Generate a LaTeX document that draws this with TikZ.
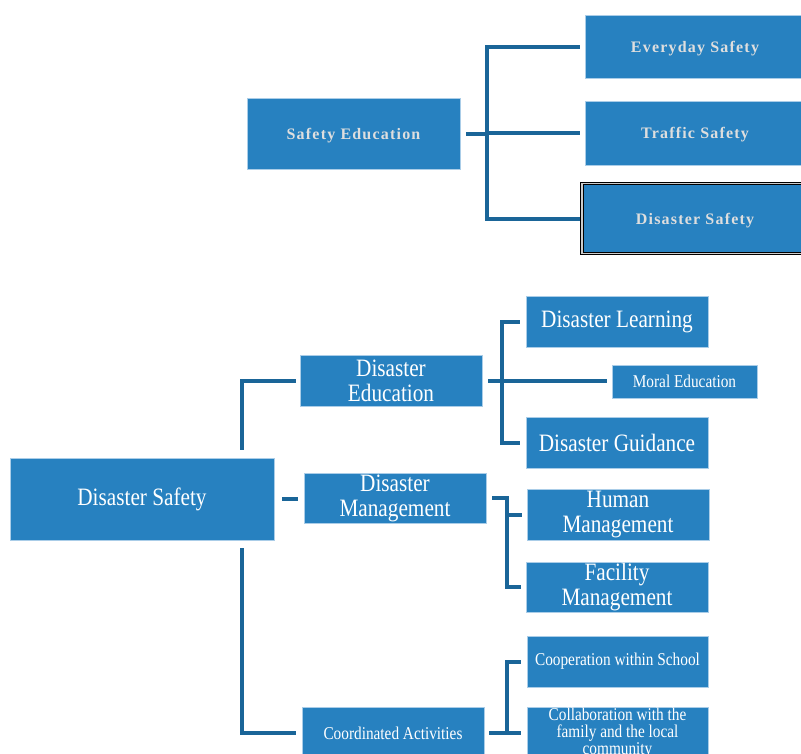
\documentclass[tikz,border=0pt]{standalone}
\usepackage{fontspec}
\setmainfont{Liberation Serif}
\newfontfamily\condfont{Liberation Serif}[FakeStretch=0.85]
\newfontfamily\topfont{Liberation Serif}[LetterSpace=7.5,BoldFont={Liberation Serif Bold}]
\definecolor{boxfill}{RGB}{39,129,192}
\definecolor{boxline}{RGB}{170,205,232}
\definecolor{connc}{RGB}{26,101,152}
\definecolor{toptext}{RGB}{222,222,222}
\begin{document}
\begin{tikzpicture}[x=1pt,y=-1pt,
  box/.style={rectangle, fill=boxfill, draw=boxline, line width=0.8pt, inner sep=0pt, align=center, text=white},
  topbox/.style={box, text=toptext, text height=11pt, text depth=0pt, font=\topfont\bfseries\fontsize{16}{18}\selectfont},
  bigbox/.style={box, font=\condfont\fontsize{25}{25}\selectfont},
  smallbox/.style={box, font=\condfont\fontsize{18}{17}\selectfont},
  conn/.style={draw=connc, line width=4pt, line join=miter, line cap=butt}]
\useasboundingbox (0,0) rectangle (801,753);
\begin{scope}
\clip (0,0) rectangle (801,753);
% ---------- top tree ----------
\node[topbox, minimum width=213pt, minimum height=71pt] (se) at (353.5,133.5) {Safety Education};
\node[topbox, minimum width=220pt, minimum height=63pt] (es) at (695,46.5) {Everyday Safety};
\node[topbox, minimum width=220pt, minimum height=64pt] (ts) at (695,133) {Traffic Safety};
\node[topbox, draw=black, line width=1.2pt, double=gray!40, double distance=1.4pt, minimum width=226pt, minimum height=70pt] (ds1) at (695,218.5) {Disaster Safety};
\coordinate (sej) at (487,0);
\draw[conn] ([xshift=6pt]se.east) -- (sej |- se.east);
\draw[conn] ([xshift=-5pt]es.west) -- (sej |- es.west) -- (sej |- ds1.west) -- ([xshift=-1pt]ds1.west);
\draw[conn] (sej |- ts.west) -- ([xshift=-5pt]ts.west);
% ---------- bottom tree ----------
\node[bigbox, minimum width=264pt, minimum height=82pt] (ds) at (142,499) {Disaster Safety};
\node[bigbox, minimum width=182pt, minimum height=51pt] (de) at (391,380.5) {Disaster\\Education};
\node[bigbox, minimum width=182pt, minimum height=50pt] (dm) at (395,498) {Disaster\\Management};
\node[smallbox, minimum width=182pt, minimum height=52pt] (ca) at (393,733) {Coordinated Activities};
\node[bigbox, minimum width=182pt, minimum height=51pt] (dl) at (617,321.5) {Disaster Learning};
\node[smallbox, minimum width=145pt, minimum height=33pt] (me) at (684.5,381.5) {Moral Education};
\node[bigbox, minimum width=182pt, minimum height=51pt] (dg) at (617,442.5) {Disaster Guidance};
\node[bigbox, minimum width=182pt, minimum height=51pt] (hm) at (618,514.5) {Human\\Management};
\node[bigbox, minimum width=182pt, minimum height=50pt] (fm) at (617,587) {Facility\\Management};
\node[smallbox, minimum width=181pt, minimum height=51pt] (cw) at (617.5,661.5) {Cooperation within School};
\node[smallbox, minimum width=181pt, minimum height=52pt] (cl) at (617.5,733) {Collaboration with the\\family and the local\\community};
% connectors
\draw[conn] ([xshift=100pt,yshift=8pt]ds.north) |- ([xshift=-4pt]de.west);
\draw[conn] ([xshift=100pt,yshift=-8pt]ds.south) |- ([xshift=-6pt]ca.west);
\draw[conn] ([xshift=8pt]ds.east) -- ([xshift=-6pt]ds.east -| dm.west);
\coordinate (dex) at (502,0);
\draw[conn] ([xshift=6pt]de.east) -- ([xshift=-5pt]de.east -| me.west);
\draw[conn] ([xshift=-6pt]dl.west) -- (dex |- dl.west) -- (dex |- dg.west) -- ([xshift=-6pt]dg.west);
\coordinate (dmx) at (507,0);
\draw[conn] ([xshift=6pt]dm.east) -- (dmx |- dm.east) -- (dmx |- fm.west) -- ([xshift=-5pt]fm.west);
\draw[conn] (dmx |- hm.west) -- ([xshift=-5pt]hm.west);
\coordinate (cax) at (507,0);
\draw[conn] ([xshift=5pt]ca.east) -- ([xshift=-6pt]ca.east -| cl.west);
\draw[conn] ([xshift=-6pt]cw.west) -- (cax |- cw.west) -- (cax |- ca.east);
\end{scope}
\end{tikzpicture}
\end{document}
